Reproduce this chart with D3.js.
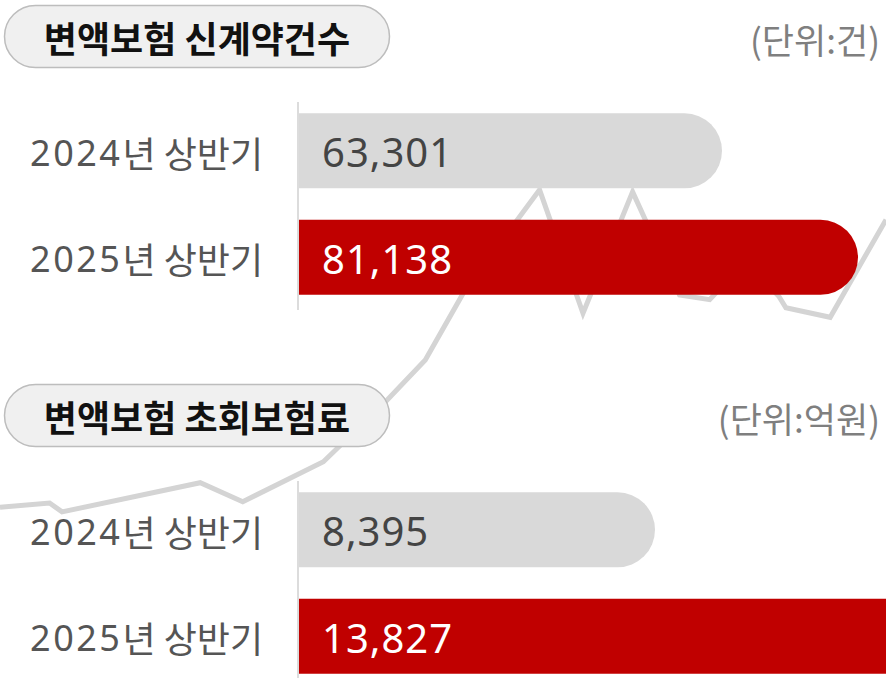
<!DOCTYPE html>
<html>
<head>
<meta charset="utf-8">
<script src="https://cdn.jsdelivr.net/npm/d3@7"></script>
<style>
  body { margin: 0; background: #fff; }
  svg { display: block; }
</style>
</head>
<body>
<svg id="chart" width="886" height="678"></svg>
<script>
// data
const years = ['2024년', '2025년']
const periods = years.map(d => d + ' 상반기')
const contracts = [63301, 81138]      // 신계약건수 (건)
const premiums = [8395, 13827]        // 초회보험료 (억원)
const titles = ['변액보험 신계약건수', '변액보험 초회보험료']
const units = ['(단위:건)', '(단위:억원)']

// decorative trend line in the background (0-100 units)
const trendX = [0, 5.6, 7.0, 22.6, 27.4, 36.5, 43.7, 48.0, 52.3, 60.9, 65.8, 71.4, 76.7, 80.1, 84.1, 87.9, 88.7, 93.7, 100]
const trendY = [25.2, 25.8, 24.5, 28.8, 26.0, 31.9, 41.0, 46.9, 56.8, 72.0, 53.8, 71.7, 56.5, 55.8, 61.4, 56.3, 54.6, 53.2, 67.6]

const width = 886
const height = 678
const svg = d3.select('#chart')

// background line
const tx = d3.scaleLinear().domain([0, 100]).range([0, width])
const ty = d3.scaleLinear().domain([0, 100]).range([height, 0])
svg.append('path')
  .datum(d3.zip(trendX, trendY))
  .attr('d', d3.line().x(d => tx(d[0])).y(d => ty(d[1])))
  .attr('fill', 'none')
  .attr('stroke', '#d4d4d4')
  .attr('stroke-width', 5)

const colors = ['#d9d9d9', '#c00000']
const textColors = ['#444', '#fff']
const x0 = 299
const barH = 75

// bar with a round right end
function barPath (x1, y, w, h) {
  const r = h / 2
  return `M${x1},${y}H${x1 + w - r}A${r},${r} 0 0 1 ${x1 + w - r},${y + h}H${x1}Z`
}

function panel (top, values, title, unit, range) {
  const g = svg.append('g').attr('transform', `translate(0,${top})`)

  // title pill
  g.append('rect')
    .attr('x', 4.5).attr('y', 0.5)
    .attr('width', 385).attr('height', 62)
    .attr('rx', 31)
    .attr('fill', '#f0f0f0')
    .attr('stroke', '#bdbdbd')
    .attr('stroke-width', 1.5)
  g.append('text')
    .attr('x', 197).attr('y', 32)
    .attr('text-anchor', 'middle')
    .attr('dominant-baseline', 'central')
    .style('font', '700 36px "Noto Sans CJK KR"')
    .attr('fill', '#111')
    .text(title)
  g.append('text')
    .attr('x', 880).attr('y', 33)
    .attr('text-anchor', 'end')
    .attr('dominant-baseline', 'central')
    .style('font', '400 35px "Noto Sans CJK KR"')
    .attr('fill', '#7f7f7f')
    .text(unit)

  const x = d3.scaleLinear().domain(d3.extent(values)).range(range)
  const y = d3.scaleBand().domain(periods).range([103, 284]).paddingInner(0.4).paddingOuter(0.05)

  g.append('line')
    .attr('x1', 298).attr('x2', 298)
    .attr('y1', 97).attr('y2', 305)
    .attr('stroke', '#dcdcdc')
    .attr('stroke-width', 2)

  g.selectAll('path.bar')
    .data(values)
    .join('path')
    .attr('class', 'bar')
    .attr('d', (d, i) => barPath(x0, y(periods[i]), x(d), barH))
    .attr('fill', (d, i) => colors[i])

  const labels = g.selectAll('text.label')
    .data(periods)
    .join('text')
    .attr('class', 'label')
    .attr('x', 263)
    .attr('y', d => y(d) + barH / 2 + 1)
    .attr('text-anchor', 'end')
    .attr('dominant-baseline', 'central')
    .style('font', '400 36px "Noto Sans CJK KR"')
    .attr('fill', '#555')
  labels.append('tspan')
    .style('font-family', '"Noto Sans"')
    .attr('letter-spacing', 2.5)
    .text((d, i) => years[i].slice(0, 4))
  labels.append('tspan')
    .text(d => d.slice(4))

  g.selectAll('text.value')
    .data(values)
    .join('text')
    .attr('class', 'value')
    .attr('x', 322)
    .attr('y', (d, i) => y(periods[i]) + barH / 2 + 1)
    .attr('dominant-baseline', 'central')
    .attr('letter-spacing', 1)
    .style('font', '400 40px "Noto Sans"')
    .attr('fill', (d, i) => textColors[i])
    .text(d => d3.format(',')(d))
}

panel(5, contracts, titles[0], units[0], [423, 559])
panel(384, premiums, titles[1], units[1], [356, 640])
</script>
</body>
</html>
